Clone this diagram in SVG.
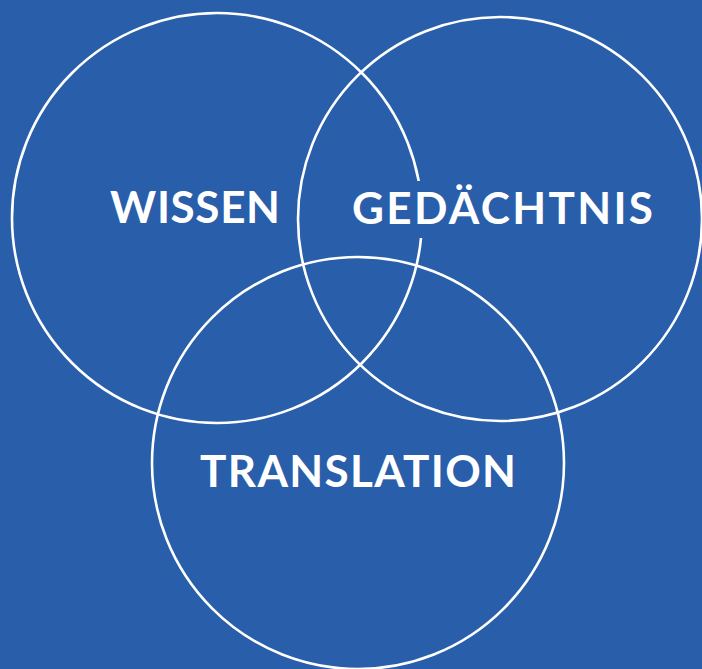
<svg xmlns="http://www.w3.org/2000/svg" width="702" height="669" viewBox="0 0 702 669">
<style>
.c{fill:none;stroke:#ffffff;stroke-width:2.6}
.t{fill:#ffffff;font-family:Lato,"Open Sans","DejaVu Sans",sans-serif;font-weight:700;font-size:44px}
</style>
<rect width="702" height="669" fill="#285EAA"/>
<g id="wissen">
<circle class="c" cx="217" cy="218" r="205"/>
</g>
<rect x="345" y="181" width="95" height="57" fill="#285EAA"/>
<g id="gedaechtnis">
<circle class="c" cx="500" cy="219" r="202"/>
</g>
<g id="translation">
<circle class="c" cx="358" cy="463" r="206"/>
</g>
<g id="labels">
<text class="t" x="110" y="223" textLength="170" lengthAdjust="spacing">WISSEN</text>
<text class="t" x="352" y="224" textLength="301" lengthAdjust="spacing">GEDÄCHTNIS</text>
<text class="t" x="200" y="487" textLength="316" lengthAdjust="spacing">TRANSLATION</text>
</g>
</svg>
